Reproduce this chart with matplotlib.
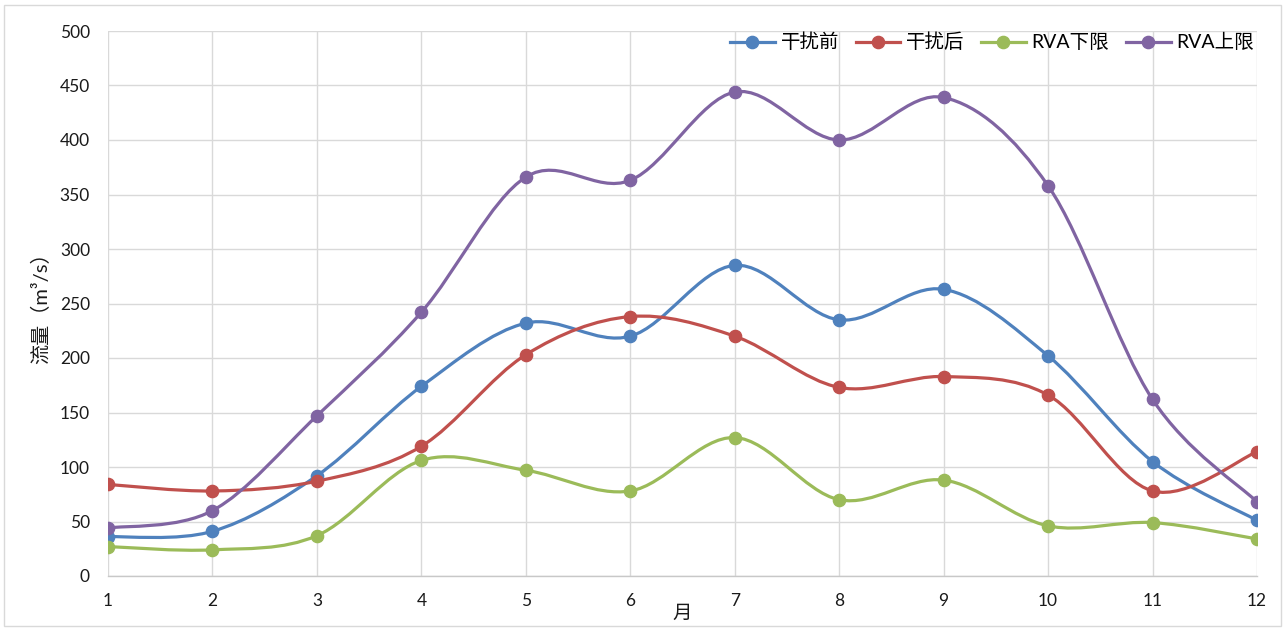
import numpy as np
import matplotlib
matplotlib.use("Agg")
import matplotlib.pyplot as plt
from matplotlib.path import Path
from matplotlib.patches import PathPatch, Rectangle
from matplotlib.lines import Line2D

plt.rcParams['font.family'] = ['Lato', 'Noto Sans CJK SC', 'DejaVu Sans']

months = [1, 2, 3, 4, 5, 6, 7, 8, 9, 10, 11, 12]
before = [36, 41, 92, 174, 232, 220, 285, 235, 263, 202, 105, 51]
after = [84, 78, 87, 119, 203, 238, 220, 173, 183, 166, 78, 114]
rva_low = [27, 24, 37, 106, 97, 78, 127, 70, 88, 46, 49, 34]
rva_high = [44, 60, 147, 242, 366, 363, 444, 400, 439, 358, 162, 68]

series_names = ['干扰前', '干扰后', 'RVA下限', 'RVA上限']
series_values = [before, after, rva_low, rva_high]
colors = ['#4F81BD', '#C0504D', '#9BBB59', '#8064A2']


def smooth_path(x, y):
    """Bezier path through the points, Catmull-Rom style control points."""
    pts = np.column_stack([x, y]).astype(float)
    n = len(pts)
    verts = [pts[0]]
    codes = [Path.MOVETO]
    for i in range(n - 1):
        p_prev = pts[i - 1] if i > 0 else pts[i]
        p0 = pts[i]
        p1 = pts[i + 1]
        p_next = pts[i + 2] if i + 2 < n else pts[i + 1]
        c1 = p0 + (p1 - p_prev) / 6.0
        c2 = p1 - (p_next - p0) / 6.0
        verts += [c1, c2, p1]
        codes += [Path.CURVE4] * 3
    return Path(verts, codes)


fig = plt.figure(figsize=(12.85, 6.28), dpi=100)
fig.patches.append(Rectangle((4 / 1285, 2 / 628), 1277 / 1285, 621 / 628,
                             transform=fig.transFigure, fill=False,
                             edgecolor='#d9d9d9', linewidth=1.0))
ax = fig.add_axes([108 / 1285, 1 - 576 / 628, (1257 - 108) / 1285, (576 - 31) / 628])

for name, vals, c in zip(series_names, series_values, colors):
    ax.add_patch(PathPatch(smooth_path(months, vals), facecolor='none',
                           edgecolor=c, linewidth=2.3, capstyle='round',
                           joinstyle='round', zorder=3))
    ax.plot(months, vals, linestyle='none', marker='o', markersize=8.8,
            color=c, zorder=4)

ax.set_xlim(1, 12)
ax.set_ylim(0, 500)
ax.set_xticks(months)
ax.set_yticks(np.arange(0, 501, 50))
ax.grid(True, color='#d9d9d9', linewidth=1.0)
ax.set_axisbelow(True)
for s in ['top', 'right', 'left']:
    ax.spines[s].set_visible(False)
ax.spines['bottom'].set_color('#c8c8c8')
ax.spines['bottom'].set_linewidth(1.0)
ax.tick_params(axis='both', length=0, labelsize=12.5, colors='#1a1a1a')
ax.tick_params(axis='y', pad=13)
ax.tick_params(axis='x', pad=12)

ax.set_xlabel('月', fontsize=14, color='#1a1a1a', labelpad=-3)
ax.set_ylabel('流量（m³/s）', fontsize=14.5, color='#1a1a1a', labelpad=7)

handles = [Line2D([0], [0], color=c, linewidth=2.3, marker='o', markersize=8.8)
           for c in colors]
fig.legend(handles, series_names, loc='center right',
           bbox_to_anchor=(1254 / 1285, 1 - 42 / 628), ncol=4, frameon=False,
           fontsize=14, handlelength=2.3, handletextpad=0.3,
           columnspacing=0.85, borderpad=0, borderaxespad=0)

fig.savefig('out.png', dpi=100)
